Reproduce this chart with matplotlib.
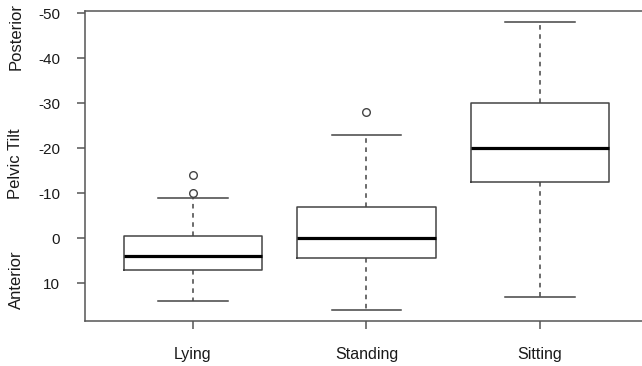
import matplotlib
matplotlib.use("Agg")
from matplotlib import pyplot as plt

plt.rcParams['font.family'] = ['Liberation Sans', 'DejaVu Sans']

# values (pelvic tilt, degrees)
groups = ['Lying', 'Standing', 'Sitting']
whisker_low = [14, 16, 13]
box_low = [7, 4.5, -12.5]
medians = [4, 0, -20]
box_high = [-0.5, -7, -30]
whisker_high = [-9, -23, -48]
outliers = [[-10, -14], [-28], []]

stats = []
for i, name in enumerate(groups):
    stats.append({
        'label': name,
        'whislo': whisker_low[i],
        'q1': box_low[i],
        'med': medians[i],
        'q3': box_high[i],
        'whishi': whisker_high[i],
        'fliers': outliers[i],
    })

line_col = '#444444'
text_col = '#1a1a1a'

fig = plt.figure(figsize=(6.42, 3.66), dpi=100)
ax = fig.add_axes([85 / 642, 1 - 321 / 366, 1 - 85 / 642 + 0.01, 310 / 366])

ax.bxp(stats, positions=[1, 2, 3], widths=0.8, capwidths=0.4,
       boxprops=dict(color=line_col, linewidth=1.1),
       whiskerprops=dict(color=line_col, linewidth=1.1, linestyle=(0, (3, 3))),
       capprops=dict(color=line_col, linewidth=1.1),
       medianprops=dict(color='black', linewidth=2.3),
       flierprops=dict(marker='o', markersize=5.5, markerfacecolor='none',
                       markeredgecolor=line_col, markeredgewidth=1.0))

ax.set_xlim(0.378, 3.625)
ax.set_ylim(18.4, -50.5)
ax.set_yticks([-50, -40, -30, -20, -10, 0, 10])
ax.set_yticklabels(['-50', '-40', '-30', '-20', '-10', '0', '10'])
ax.set_xticks([1, 2, 3])
ax.set_xticklabels(groups)

for s in ['left', 'top', 'bottom', 'right']:
    ax.spines[s].set_color('#555555')
    ax.spines[s].set_linewidth(1.1)
ax.tick_params(axis='both', colors='#555555', labelcolor=text_col,
               labelsize=11, length=6, width=1.1)
ax.tick_params(axis='x', pad=13, labelsize=11.5)
ax.tick_params(axis='y', pad=12)

fig.text(16 / 642, 1 - 36 / 366, 'Posterior', rotation=90, ha='center', va='center',
         fontsize=12, color=text_col)
fig.text(16 / 642, 1 - 164 / 366, 'Pelvic Tilt', rotation=90, ha='center', va='center',
         fontsize=12, color=text_col)
fig.text(16 / 642, 1 - 280 / 366, 'Anterior', rotation=90, ha='center', va='center',
         fontsize=12, color=text_col)

fig.savefig('out.png', dpi=100)
